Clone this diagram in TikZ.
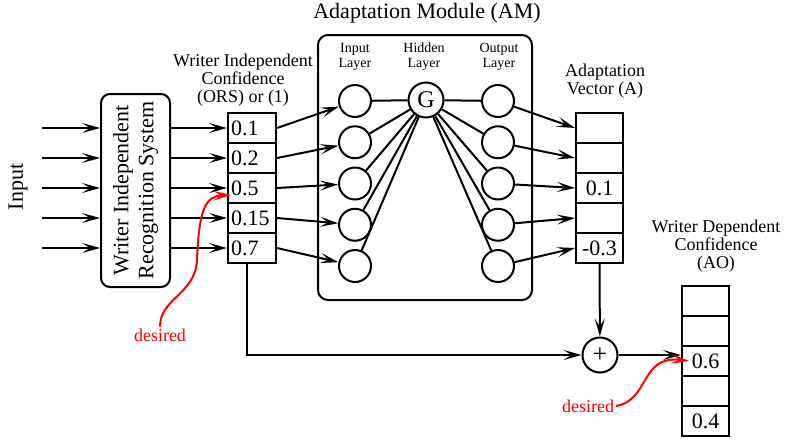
\documentclass[tikz,border=0pt]{standalone}
\usepackage{fontspec}
\setmainfont{Liberation Serif}
\usetikzlibrary{positioning, calc, arrows.meta}
\definecolor{desired}{HTML}{FF0000}
\newcommand{\TitleF}{\fontsize{22}{25}\selectfont}
\newcommand{\CellF}{\fontsize{22}{25}\selectfont}
\newcommand{\LabelF}{\fontsize{18}{18}\selectfont}
\newcommand{\LayerF}{\fontsize{14}{15}\selectfont}

\begin{document}
\begin{tikzpicture}[x=1pt, y=-1pt, line width=2pt,
    >={Stealth[length=18pt, width=10pt, inset=8pt]},
    cell/.style={draw, minimum width=47pt, minimum height=30pt, inner sep=0pt, font=\CellF},
    orscell/.style={cell, text width=42pt, inner xsep=3pt, align=left},
    unit/.style={draw, circle, minimum size=32pt, inner sep=0pt},
    caption/.style={align=center, inner sep=0pt, font=\LabelF},
    note/.style={text=desired, inner sep=1pt, font=\LabelF}]
  \useasboundingbox (0,0) rectangle (790,440);

  % recognition system and its confidences
  \node[font=\CellF, rotate=90] (input) at (18,187) {Input};
  \node[draw, rounded corners=9pt, rotate=90, minimum width=193pt, minimum height=69pt,
        align=center, inner sep=0pt, font=\CellF] (wirs) at (135.5,190.5)
        {Writer Independent\\Recognition System};
  \foreach \v [count=\i] in {0.1,0.2,0.5,0.15,0.7}
    \node[orscell] (ors\i) at (252, 98+30*\i) {\v};
  \node[caption] (orscap) at (243,80) {Writer Independent\\Confidence\\(ORS) or (1)};

  % adaptation module
  \node[draw, rounded corners=10pt, minimum width=214pt, minimum height=265pt] (am) at (425,167.5) {};
  \node[font=\TitleF, inner sep=0pt] (amtitle) at (427,13) {Adaptation Module (AM)};
  \node[caption, font=\LayerF] (inlayer) at (355,57) {Input\\Layer};
  \node[caption, font=\LayerF] (hidlayer) at (424,57) {Hidden\\Layer};
  \node[caption, font=\LayerF] (outlayer) at (499,57) {Output\\Layer};
  \foreach \i in {1,...,5} {
    \node[unit] (in\i) at (355, 59.75+41.25*\i) {};
    \node[unit] (out\i) at (498, 59.75+41.25*\i) {};
  }
  \node[unit, minimum size=35pt, font=\fontsize{24}{26}\selectfont] (g) at (426,100) {G};

  % adaptation vector and output
  \foreach \v [count=\i] in {{},{},0.1,{},-0.3}
    \node[cell] (av\i) at (599.5, 98+30*\i) {\v};
  \node[caption] (avcap) at (605,81) {Adaptation\\Vector (A)};
  \foreach \v [count=\i] in {{},{},0.6,{},0.4}
    \node[cell] (ao\i) at (705.5, 271+30*\i) {\v};
  \node[caption] (aocap) at (716,246) {Writer Dependent\\Confidence\\(AO)};
  \node[unit, minimum size=35pt, font=\fontsize{26}{28}\selectfont] (plus) at (600,355) {+};

  \foreach \i in {1,...,5} {
    \coordinate (src\i) at (42, 98+30*\i);
    \draw[->] (src\i) -- (src\i -| wirs.north);
    \draw[->] (wirs.south |- ors\i) -- (ors\i.west);
    \draw[->] (ors\i.east) -- (in\i);
    \draw (in\i) -- (g);
    \draw (g) -- (out\i);
    \draw[->] (out\i) -- (av\i.west);
  }
  \draw[->] (av5.south) -- (plus);
  \draw[->] ([xshift=-5pt]ors5.south) |- (plus);
  \draw[->] (plus) -- (plus -| ao3.west);

  % desired values
  \node[note] (des1) at (160,335) {desired};
  \node[note] (des2) at (588,406) {desired};
  \draw[->, desired] (des1.north) .. controls (160,298) and (195,295) .. (197,260)
    .. controls (199,210) and (205,196) .. ([shift={(4,7)}]ors3.west);
  \draw[->, desired] (des2.east) .. controls (650,400) and (640,355) .. ([xshift=8pt]ao3.west);
\end{tikzpicture}
\end{document}
